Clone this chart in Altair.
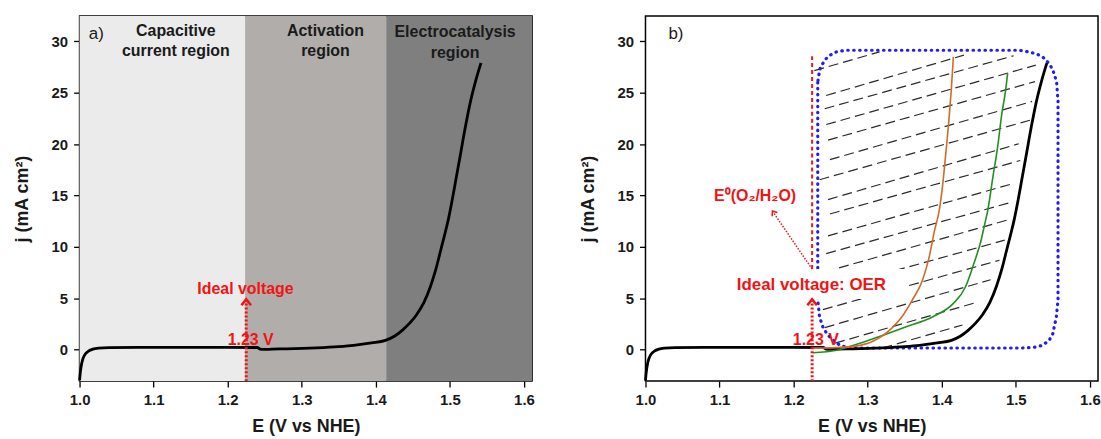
import altair as alt
import pandas as pd

# ---------------- axis domains and ticks ----------------
E_MIN, E_MAX = 1.0, 1.611
J_MIN, J_MAX = -3.06, 32.45
x_ticks = [1.0, 1.1, 1.2, 1.3, 1.4, 1.5, 1.6]
y_ticks = [0, 5, 10, 15, 20, 25, 30]

# ---------------- black LSV curve (both panels) ----------------
lsv_E = [1.000, 1.001, 1.003, 1.005, 1.008, 1.012, 1.018, 1.026, 1.040, 1.080, 1.150,
         1.200, 1.240, 1.244, 1.248, 1.260, 1.280, 1.320, 1.350, 1.370, 1.394, 1.413,
         1.425, 1.436, 1.446, 1.455, 1.465, 1.474, 1.481, 1.487, 1.493, 1.498, 1.503,
         1.508, 1.514, 1.521, 1.528, 1.535, 1.542]
lsv_j = [-3.0, -2.2, -1.3, -0.8, -0.4, -0.15, 0.05, 0.15, 0.2, 0.22, 0.22,
         0.22, 0.21, 0.05, 0.02, 0.05, 0.08, 0.18, 0.3, 0.42, 0.65, 0.9,
         1.3, 1.9, 2.6, 3.4, 4.6, 6.2, 7.8, 9.5, 11.2, 12.7, 14.5,
         16.5, 18.9, 21.7, 24.2, 26.2, 27.9]

# ---------------- orange and green curves (panel b) ----------------
org_E = [1.2257, 1.258, 1.290, 1.314, 1.332, 1.346, 1.360, 1.374, 1.383, 1.390,
         1.397, 1.4018, 1.406, 1.410, 1.413, 1.4157]
org_j = [0.15, 0.2, 0.42, 1.07, 2.05, 3.18, 4.8, 6.75, 9.0, 11.5,
         13.7, 16.4, 19.5, 22.6, 25.4, 28.5]
grn_E = [1.2257, 1.258, 1.281, 1.314, 1.351, 1.388, 1.4157, 1.432, 1.4435, 1.453,
         1.458, 1.462, 1.469, 1.476, 1.481, 1.486, 1.489]
grn_j = [-0.3, -0.06, 0.42, 1.23, 2.2, 3.2, 4.5, 6.1, 8.4, 10.6,
         12.2, 13.5, 16.75, 20.0, 22.9, 25.1, 26.9]

# ---------------- blue dotted rounded region (panel b) ----------------
blue_E = [1.2326, 1.2326, 1.235, 1.240, 1.2465, 1.255, 1.263, 1.272, 1.281, 1.508,
          1.524, 1.536, 1.545, 1.550, 1.5547, 1.557, 1.557, 1.555, 1.550, 1.545,
          1.536, 1.527, 1.512, 1.504, 1.270, 1.258, 1.248, 1.242, 1.236, 1.234, 1.2326]
blue_j = [26.0, 4.8, 3.2, 2.1, 1.4, 0.8, 0.42, 0.22, 0.16, 0.16,
          0.22, 0.42, 0.9, 1.56, 3.18, 4.8, 24.15, 26.1, 27.2, 27.85,
          28.5, 28.8, 29.05, 29.13, 29.13, 28.97, 28.6, 28.17, 27.4, 26.7, 26.0]

# ---------------- hatch lines (panel b) ----------------
hatch_E1 = [1.228, 1.244, 1.242, 1.244, 1.2465, 1.249, 1.235, 1.2465, 1.249, 1.2465,
            1.244, 1.242, 1.240, 1.2396, 1.242, 1.256, 1.320]
hatch_j1 = [27.14, 24.73, 23.44, 21.90, 20.39, 18.49, 16.53, 14.60, 13.20, 11.07,
            9.35, 7.56, 5.75, 3.90, 2.15, 0.63, 0.16]
hatch_E2 = [1.316, 1.430, 1.497, 1.527, 1.526, 1.522, 1.519, 1.504, 1.506, 1.497,
            1.494, 1.488, 1.485, 1.478, 1.466, 1.447, 1.428]
hatch_j2 = [28.97, 28.65, 28.59, 27.68, 26.08, 24.15, 22.32, 20.03, 18.40, 16.17,
            14.34, 12.60, 10.65, 8.70, 6.80, 4.60, 2.40]

# ---------------- panel a background bands ----------------
band_E1 = [1.0, 1.2235, 1.414]
band_E2 = [1.2235, 1.414, 1.611]
band_col = ["#ebebeb", "#b0adab", "#7f7f7f"]

# ---------------- panel a region labels ----------------
reg_text = ["Capacitive", "current region", "Activation", "region", "Electrocatalysis", "region"]
reg_E = [1.130, 1.130, 1.332, 1.332, 1.507, 1.507]
reg_j = [30.97, 29.03, 30.97, 29.03, 30.9, 28.85]

# ---------------- red annotations ----------------
ideal_E = 1.225
ideal_top = 4.9
ideal_a_text, ideal_a_E, ideal_a_j = "Ideal voltage", 1.224, 5.9
v123_text = "1.23 V"
v123_a = (1.231, 0.97)
v123_b = (1.230, 0.9)
oer_text, oer_E, oer_j = "Ideal voltage: OER", 1.224, 6.3
box_E1, box_E2, box_j1, box_j2 = 1.093, 1.355, 4.93, 7.85
e0_text, e0_E, e0_j = "E⁰(O₂/H₂O)", 1.148, 14.93
red_dash_j1, red_dash_j2 = 7.85, 28.7
diag_E1, diag_j1, diag_E2, diag_j2 = 1.225, 7.84, 1.1714, 13.48
panel_lbl = [("a)", 1.0125, 30.75), ("b)", 1.031, 30.75)]

RED = "#f01414"
FONT = "Liberation Sans"

xs = alt.Scale(domain=[E_MIN, E_MAX], nice=False, zero=False)
ys = alt.Scale(domain=[J_MIN, J_MAX], nice=False, zero=False)
xax = alt.Axis(title="E (V vs NHE)", values=x_ticks, format=".1f", labelFlush=False)
yax = alt.Axis(title="j (mA cm²)", values=y_ticks, format="d", labelFlush=False)


def X(f="E"):
    return alt.X(f"{f}:Q", scale=xs, axis=xax)


def Y(f="j"):
    return alt.Y(f"{f}:Q", scale=ys, axis=yax)


def curve(E, j, color, width):
    df = pd.DataFrame({"E": E, "j": j, "i": range(len(E))})
    return alt.Chart(df).mark_line(color=color, strokeWidth=width, interpolate="monotone").encode(
        x=X(), y=Y(), order="i:Q")


def text_layer(rows, color, size, weight="bold", align="center"):
    df = pd.DataFrame(rows, columns=["t", "E", "j"])
    return alt.Chart(df).mark_text(color=color, fontSize=size, fontWeight=weight, font=FONT,
                                   align=align, baseline="middle").encode(
        x=X(), y=Y(), text="t:N")


def vrule(E, j1, j2, color, width, dash):
    df = pd.DataFrame({"E": [E], "j": [j1], "j2": [j2]})
    return alt.Chart(df).mark_rule(color=color, strokeWidth=width, strokeDash=dash).encode(
        x=X(), y=Y(), y2="j2:Q")


def chevron(E, j, color, width, size, angle=0):
    df = pd.DataFrame({"E": [E], "j": [j]})
    return alt.Chart(df).mark_point(shape="M-0.8,1L0,0L0.8,1", filled=False, color=color,
                                    strokeWidth=width, size=size, angle=angle, opacity=1).encode(
        x=X(), y=Y())


# ================= panel a =================
band_df = pd.DataFrame({"E": band_E1, "E2": band_E2, "j": [J_MIN] * 3, "j2": [J_MAX] * 3,
                        "c": band_col})
bands = alt.Chart(band_df).mark_rect().encode(
    x=X(), x2="E2:Q", y=Y(), y2="j2:Q", color=alt.Color("c:N", scale=None))

panel_a = alt.layer(
    bands,
    curve(lsv_E, lsv_j, "black", 2.8),
    vrule(ideal_E, J_MIN, ideal_top, RED, 3, [2, 2]),
    chevron(ideal_E, ideal_top, RED, 2.6, 144),
    text_layer([(ideal_a_text, ideal_a_E, ideal_a_j)], RED, 16),
    text_layer([(v123_text, v123_a[0], v123_a[1])], RED, 16),
    text_layer(list(zip(reg_text, reg_E, reg_j)), "#1a1a1a", 16),
    text_layer([panel_lbl[0]], "#1a1a1a", 17, weight="normal", align="left"),
).properties(width=455, height=367)

# ================= panel b =================
hatch_df = pd.DataFrame({"E": hatch_E1, "j": hatch_j1, "E2": hatch_E2, "j2": hatch_j2})
hatch = alt.Chart(hatch_df).mark_rule(color="#2a2a2a", strokeWidth=1.2, strokeDash=[10, 5]).encode(
    x=X(), y=Y(), x2="E2:Q", y2="j2:Q")

blue_df = pd.DataFrame({"E": blue_E, "j": blue_j, "i": range(len(blue_E))})
blue = alt.Chart(blue_df).mark_line(color="#1f1fef", strokeWidth=3.2, strokeDash=[0.5, 5.5],
                                    strokeCap="round").encode(x=X(), y=Y(), order="i:Q")

box_df = pd.DataFrame({"E": [box_E1], "E2": [box_E2], "j": [box_j1], "j2": [box_j2]})
box = alt.Chart(box_df).mark_rect(color="white").encode(x=X(), x2="E2:Q", y=Y(), y2="j2:Q")

diag_df = pd.DataFrame({"E": [diag_E1], "j": [diag_j1], "E2": [diag_E2], "j2": [diag_j2]})
diag = alt.Chart(diag_df).mark_rule(color=RED, strokeWidth=1.5, strokeDash=[1.5, 1.5]).encode(
    x=X(), y=Y(), x2="E2:Q", y2="j2:Q")

panel_b = alt.layer(
    hatch,
    blue,
    vrule(ideal_E, red_dash_j1, red_dash_j2, RED, 2, [4, 3]),
    curve(lsv_E, lsv_j, "black", 2.8),
    curve(grn_E, grn_j, "#22901f", 1.6),
    curve(org_E, org_j, "#d26a28", 1.6),
    box,
    diag,
    chevron(diag_E2, diag_j2, RED, 1.5, 64, angle=325),
    vrule(ideal_E, J_MIN, ideal_top, RED, 3, [2, 2]),
    chevron(ideal_E, ideal_top, RED, 2.6, 144),
    text_layer([(oer_text, oer_E, oer_j)], RED, 17),
    text_layer([(v123_text, v123_b[0], v123_b[1])], RED, 16),
    text_layer([(e0_text, e0_E, e0_j)], RED, 16),
    text_layer([panel_lbl[1]], "#1a1a1a", 17, weight="normal", align="left"),
).properties(width=455, height=367)

chart = alt.hconcat(panel_a, panel_b, spacing=43).properties(
    padding={"left": 12, "top": 14, "right": 0, "bottom": 0},
    background="white",
).configure_view(
    stroke="black", strokeWidth=1.5
).configure_axis(
    domain=False, grid=False, tickColor="black", tickSize=6, tickWidth=1.3,
    labelFont=FONT, labelFontSize=15, labelFontWeight="bold", labelColor="#1a1a1a",
    labelPadding=6, titleFont=FONT, titleFontSize=18, titleFontWeight="bold",
    titleColor="#1a1a1a"
).configure_axisX(titlePadding=10).configure_axisY(titlePadding=20)

chart.save("out.html", embed_options={"renderer": "svg", "actions": False})
